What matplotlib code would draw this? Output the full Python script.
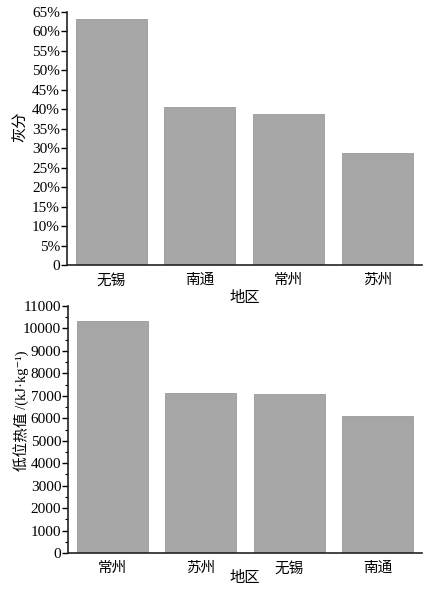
import matplotlib
matplotlib.use("Agg")
import matplotlib.pyplot as plt
from matplotlib.ticker import MultipleLocator, FuncFormatter

plt.rcParams['font.family'] = ['Liberation Serif', 'Noto Sans CJK SC', 'DejaVu Sans']

# Top chart: ash content
ash_regions = ['无锡', '南通', '常州', '苏州']
ash_values = [63.1, 40.7, 38.7, 28.7]

# Bottom chart: low heating value
lhv_regions = ['常州', '苏州', '无锡', '南通']
lhv_values = [10350, 7110, 7080, 6100]

bar_color = '#a6a6a6'
edge_color = '#9a9a9a'

fig = plt.figure(figsize=(4.34, 5.97), dpi=100)

ax1 = fig.add_axes([0.154, 0.556, 0.818, 0.424])
ax1.bar(range(len(ash_regions)), ash_values, width=0.8, color=bar_color,
        edgecolor=edge_color, linewidth=0.6)
ax1.set_xlim(-0.5, 3.5)
ax1.set_ylim(0, 65)
ax1.yaxis.set_major_locator(MultipleLocator(5))
ax1.yaxis.set_major_formatter(FuncFormatter(lambda v, p: '0' if v == 0 else f'{int(round(v))}%'))
ax1.set_xticks(range(len(ash_regions)))
ax1.set_xticklabels(ash_regions, fontsize=10.5)
ax1.set_ylabel('灰分', fontsize=11)
ax1.yaxis.set_label_coords(-0.108, 0.545)
ax1.set_xlabel('地区', fontsize=11, labelpad=3)

ax2 = fig.add_axes([0.157, 0.0737, 0.815, 0.4137])
ax2.bar(range(len(lhv_regions)), lhv_values, width=0.8, color=bar_color,
        edgecolor=edge_color, linewidth=0.6)
ax2.set_xlim(-0.5, 3.5)
ax2.set_ylim(0, 11000)
ax2.yaxis.set_major_locator(MultipleLocator(1000))
ax2.yaxis.set_minor_locator(MultipleLocator(500))
ax2.set_xticks(range(len(lhv_regions)))
ax2.set_xticklabels(lhv_regions, fontsize=10.5)
ax2.set_ylabel('低位热值 /(kJ·kg⁻¹)', fontsize=10.5)
ax2.yaxis.set_label_coords(-0.11, 0.575)
ax2.set_xlabel('地区', fontsize=11, labelpad=-3)

for ax in (ax1, ax2):
    for s in ('top', 'right'):
        ax.spines[s].set_visible(False)
    for s in ('left', 'bottom'):
        ax.spines[s].set_linewidth(1.2)
        ax.spines[s].set_color('#222222')
    ax.tick_params(axis='y', which='major', direction='out', length=4, width=1.0,
                   labelsize=11, pad=1)
    ax.tick_params(axis='y', which='minor', direction='out', length=2.5, width=0.8)
    ax.tick_params(axis='x', which='both', length=0, pad=6)

fig.savefig('out.png', dpi=100)
